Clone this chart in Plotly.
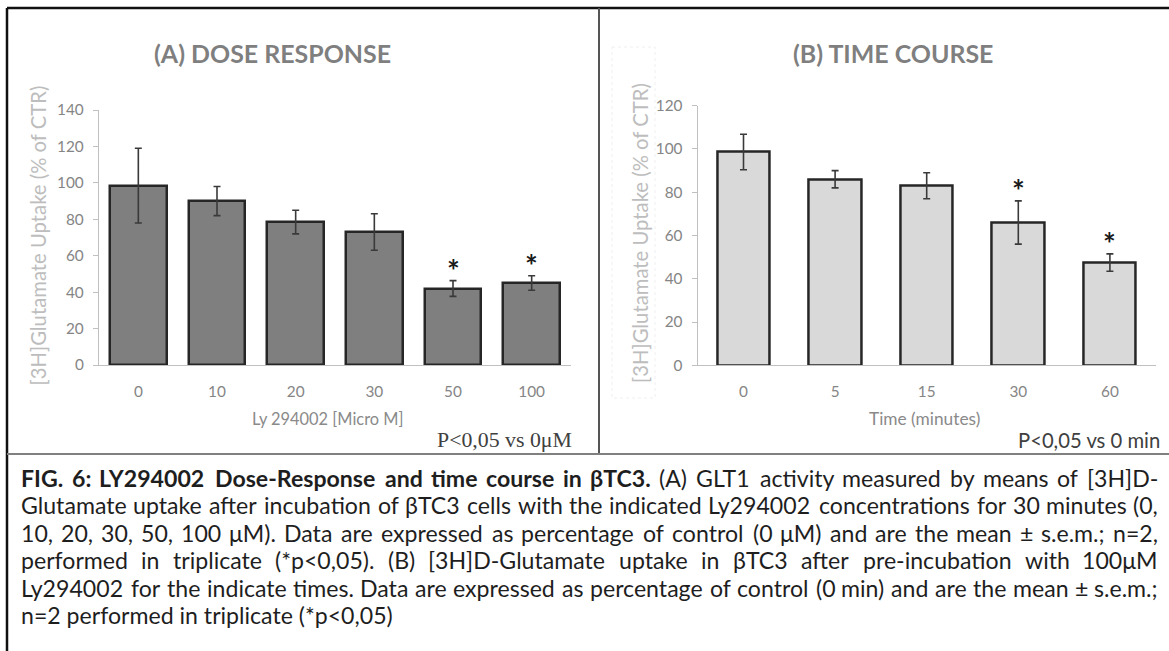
import glob
import os
import struct
import plotly.graph_objects as go

# ---------------- data ----------------
dose_labels = ["0", "10", "20", "30", "50", "100"]
dose_mean = [98.5, 90, 78.5, 73, 42, 45]
dose_sem = [20.5, 8, 6.5, 10, 4.3, 4]
dose_sig = [False, False, False, False, True, True]

time_labels = ["0", "5", "15", "30", "60"]
time_mean = [98.6, 86, 83, 66, 47.5]
time_sem = [8.2, 4, 6, 10, 4]
time_sig = [False, False, False, True, True]

title_a = "(A) DOSE RESPONSE"
title_b = "(B) TIME COURSE"
ytitle = "[3H]Glutamate Uptake (% of CTR)"
xtitle_a = "Ly 294002 [Micro M]"
xtitle_b = "Time (minutes)"
pnote_a = "P<0,05 vs 0\u03bcM"
pnote_b = "P<0,05 vs 0 min"

caption_lines = [
    [("FIG. 6: LY294002 Dose-Response and time course in \u03b2TC3.", True),
     ("(A) GLT1 activity measured by means of [3H]D-", False)],
    [("Glutamate uptake after incubation of \u03b2TC3 cells with the indicated Ly294002 concentrations for 30 minutes (0,", False)],
    [("10, 20, 30, 50, 100 \u03bcM). Data are expressed as percentage of control (0 \u03bcM) and are the mean \u00b1 s.e.m.; n=2,", False)],
    [("performed in triplicate (*p<0,05). (B) [3H]D-Glutamate uptake in \u03b2TC3 after pre-incubation with 100\u03bcM", False)],
    [("Ly294002 for the indicate times. Data are expressed as percentage of control (0 min) and are the mean \u00b1 s.e.m.;", False)],
    [("n=2 performed in triplicate (*p<0,05)", False)],
]
caption_justify = [True, True, True, True, True, False]

W, H = 1169, 651


def px(x):
    return x / W


def py(y):
    return 1 - y / H


# ---------------- font metrics (for text fitting / justification) ----------------
def find_font(names):
    roots = ["/usr/share/fonts", "/usr/local/share/fonts",
             os.path.expanduser("~/.fonts"), os.path.expanduser("~/.local/share/fonts")]
    for n in names:
        for r in roots:
            hits = glob.glob(os.path.join(r, "**", n), recursive=True)
            if hits:
                return sorted(hits)[0]
    return None


def load_width_fn(path):
    try:
        data = open(path, "rb").read()
        base = 0
        if data[:4] == b"ttcf":
            base = struct.unpack(">I", data[12:16])[0]
        num = struct.unpack(">H", data[base + 4:base + 6])[0]
        tables = {}
        for i in range(num):
            o = base + 12 + 16 * i
            tag = data[o:o + 4].decode("latin1")
            _, off, ln = struct.unpack(">III", data[o + 4:o + 16])
            tables[tag] = off
        head = tables["head"]
        upem = struct.unpack(">H", data[head + 18:head + 20])[0]
        hhea = tables["hhea"]
        nhm = struct.unpack(">H", data[hhea + 34:hhea + 36])[0]
        hm = tables["hmtx"]
        adv = [struct.unpack(">H", data[hm + 4 * i:hm + 4 * i + 2])[0] for i in range(nhm)]
        cm = tables["cmap"]
        nsub = struct.unpack(">H", data[cm + 2:cm + 4])[0]
        sub = None
        for i in range(nsub):
            pid, eid, so = struct.unpack(">HHI", data[cm + 4 + 8 * i:cm + 12 + 8 * i])
            fmt = struct.unpack(">H", data[cm + so:cm + so + 2])[0]
            if fmt == 4 and (pid == 3 or pid == 0):
                sub = cm + so
                if pid == 3:
                    break
        seg2 = struct.unpack(">H", data[sub + 6:sub + 8])[0]
        seg = seg2 // 2
        ends = struct.unpack(">%dH" % seg, data[sub + 14:sub + 14 + seg2])
        starts = struct.unpack(">%dH" % seg, data[sub + 16 + seg2:sub + 16 + 2 * seg2])
        deltas = struct.unpack(">%dh" % seg, data[sub + 16 + 2 * seg2:sub + 16 + 3 * seg2])
        ro_off = sub + 16 + 3 * seg2
        ros = struct.unpack(">%dH" % seg, data[ro_off:ro_off + seg2])

        def gid(c):
            for i in range(seg):
                if ends[i] >= c:
                    if starts[i] > c:
                        return 0
                    if ros[i] == 0:
                        return (c + deltas[i]) & 0xFFFF
                    addr = ro_off + 2 * i + ros[i] + 2 * (c - starts[i])
                    g = struct.unpack(">H", data[addr:addr + 2])[0]
                    return (g + deltas[i]) & 0xFFFF if g else 0
            return 0

        cache = {}

        def width(text):
            w = 0
            for ch in text:
                if ch not in cache:
                    g = gid(ord(ch))
                    cache[ch] = adv[min(g, nhm - 1)] / upem
                w += cache[ch]
            return w
        width("abc")
        return width
    except Exception:
        return None


def fallback(text):
    return 0.5 * len(text)


SANS = "Lato"
SERIF = "Liberation Serif"
_p = find_font(["Lato-Regular.ttf", "Lato-Regular.otf"])
w_reg = (load_width_fn(_p) if _p else None) or fallback
_p = find_font(["Lato-Bold.ttf", "Lato-Bold.otf"])
w_bold = (load_width_fn(_p) if _p else None) or (lambda t: 0.55 * len(t))
_p = find_font(["LiberationSerif-Regular.ttf"])
w_serif = (load_width_fn(_p) if _p else None) or fallback


def fit(text, target_px, fn):
    return target_px / fn(text)


def esc(t):
    return t.replace("&", "&amp;").replace("<", "&lt;").replace(">", "&gt;")


# ---------------- figure ----------------
fig = go.Figure()
fig.add_trace(go.Bar(
    x=dose_labels, y=dose_mean, width=0.724,
    marker=dict(color="#7f7f7f", line=dict(color="#262626", width=2.5)),
    error_y=dict(type="data", array=dose_sem, visible=True, color="#3a3a3a",
                 thickness=1.6, width=3.5),
    xaxis="x", yaxis="y", showlegend=False, name="Dose response"))
fig.add_trace(go.Bar(
    x=time_labels, y=time_mean, width=0.573,
    marker=dict(color="#d9d9d9", line=dict(color="#262626", width=2.5)),
    error_y=dict(type="data", array=time_sem, visible=True, color="#3a3a3a",
                 thickness=1.6, width=3.5),
    xaxis="x2", yaxis="y2", showlegend=False, name="Time course"))

tick_size = fit("140", 26.7, w_reg)
tick_font = dict(family=SANS, size=tick_size, color="#858585")
ax_common = dict(showgrid=False, zeroline=False, showline=True, linecolor="#c0c0c0",
                 linewidth=1.3, automargin=False, fixedrange=True, tickfont=tick_font)

fig.update_layout(
    width=W, height=H, autosize=False,
    margin=dict(l=0, r=0, t=0, b=0),
    paper_bgcolor="white", plot_bgcolor="white",
    font=dict(family=SANS),
    bargap=0,
    xaxis=dict(domain=[px(99), px(571)], type="category", range=[-0.5, 5.5],
               ticks="", anchor="y", ticklabelstandoff=12, **ax_common),
    yaxis=dict(domain=[py(365), py(110)], range=[0, 140], dtick=20, tick0=0,
               ticks="outside", ticklen=5, tickcolor="#c0c0c0", tickwidth=1.2,
               anchor="x", ticklabelstandoff=6, **ax_common),
    xaxis2=dict(domain=[px(697.7), px(1155.7)], type="category", range=[-0.5, 4.5],
                ticks="", anchor="y2", ticklabelstandoff=12, **ax_common),
    yaxis2=dict(domain=[py(365.3), py(105.7)], range=[0, 120], dtick=20, tick0=0,
                ticks="outside", ticklen=5, tickcolor="#c0c0c0", tickwidth=1.2,
                anchor="x2", ticklabelstandoff=6, **ax_common),
)

ann = []
# significance stars (category index positions on the category axes)
star_font = dict(family=SANS, size=30, color="#1a1a1a")
for i, (m, e, s) in enumerate(zip(dose_mean, dose_sem, dose_sig)):
    if s:
        ann.append(dict(x=i, y=m + e, xref="x", yref="y", text="<b>*</b>", showarrow=False,
                        xanchor="center", yanchor="bottom", yshift=-9, font=star_font))
for i, (m, e, s) in enumerate(zip(time_mean, time_sem, time_sig)):
    if s:
        ann.append(dict(x=i, y=m + e, xref="x2", yref="y2", text="<b>*</b>", showarrow=False,
                        xanchor="center", yanchor="bottom", yshift=-9, font=star_font))

# panel titles
ts = (fit(title_a, 232, w_bold) + fit(title_b, 206, w_bold)) / 2
ann.append(dict(x=px(272), y=py(53), xref="paper", yref="paper", text="<b>%s</b>" % title_a,
                showarrow=False, xanchor="center", yanchor="middle",
                font=dict(family=SANS, size=ts, color="#7f7f7f")))
ann.append(dict(x=px(892.7), y=py(53), xref="paper", yref="paper", text="<b>%s</b>" % title_b,
                showarrow=False, xanchor="center", yanchor="middle",
                font=dict(family=SANS, size=ts, color="#7f7f7f")))

# y titles
yts = fit(ytitle, 302, w_reg)
for xc, yc in ((37.5, 236), (640, 233)):
    ann.append(dict(x=px(xc), y=py(yc), xref="paper", yref="paper", text=esc(ytitle),
                    textangle=-90, showarrow=False, xanchor="center", yanchor="middle",
                    font=dict(family=SANS, size=yts, color="#bdbdbd")))

# x titles
ann.append(dict(x=px(327), y=py(418), xref="paper", yref="paper", text=esc(xtitle_a),
                showarrow=False, xanchor="center", yanchor="middle",
                font=dict(family=SANS, size=fit(xtitle_a, 154, w_reg), color="#8a8a8a")))
ann.append(dict(x=px(924), y=py(418), xref="paper", yref="paper", text=esc(xtitle_b),
                showarrow=False, xanchor="center", yanchor="middle",
                font=dict(family=SANS, size=fit(xtitle_b, 112, w_reg), color="#8a8a8a")))

# p-value notes
ann.append(dict(x=px(572), y=py(440), xref="paper", yref="paper", text=esc(pnote_a),
                showarrow=False, xanchor="right", yanchor="middle", borderpad=0, borderwidth=0,
                font=dict(family=SERIF, size=fit(pnote_a, 135, w_serif), color="#404040")))
ann.append(dict(x=px(1160), y=py(440), xref="paper", yref="paper", text=esc(pnote_b),
                showarrow=False, xanchor="right", yanchor="middle", borderpad=0, borderwidth=0,
                font=dict(family=SANS, size=fit(pnote_b, 143, w_reg), color="#404040")))

# caption (justified, word by word)
X0, X1 = 21, 1158
Y0, DY = 478, 27.4
space_em = w_reg(" ")
line_words = []
for segs in caption_lines:
    words = []
    for txt, bold in segs:
        for wd in txt.split(" "):
            if wd:
                words.append((wd, bold))
    line_words.append(words)


def wem(wd, bold):
    return w_bold(wd) if bold else w_reg(wd)


last_txt = " ".join(t for t, _ in caption_lines[-1])
fs = fit(last_txt, 374, w_reg)
for words, just in zip(line_words, caption_justify):
    if just:
        nat = sum(wem(w, b) for w, b in words) + (len(words) - 1) * space_em
        fs = min(fs, (X1 - X0) / nat * 0.995)

cap_color = "#1e1e1e"
for i, (words, just) in enumerate(zip(line_words, caption_justify)):
    yc = py(Y0 + i * DY)
    if just:
        widths = [wem(w, b) * fs for w, b in words]
        gap = (X1 - X0 - sum(widths)) / (len(words) - 1)
        x = X0
        for (w, b), ww in zip(words, widths):
            t = esc(w)
            if b:
                t = "<b>%s</b>" % t
            ann.append(dict(x=px(x), y=yc, xref="paper", yref="paper", text=t, showarrow=False,
                            xanchor="left", yanchor="middle", borderpad=0, borderwidth=0,
                            font=dict(family=SANS, size=fs, color=cap_color)))
            x += ww + gap
    else:
        ann.append(dict(x=px(X0), y=yc, xref="paper", yref="paper",
                        text=esc(" ".join(w for w, _ in words)), showarrow=False,
                        xanchor="left", yanchor="middle", borderpad=0, borderwidth=0,
                        font=dict(family=SANS, size=fs, color=cap_color)))

fig.update_layout(annotations=ann)

# frame lines
shapes = [
    dict(type="line", x0=px(7), x1=px(1169), y0=py(8), y1=py(8), line=dict(color="#111111", width=2.5)),
    dict(type="line", x0=px(7), x1=px(7), y0=py(8), y1=py(651), line=dict(color="#111111", width=2.5)),
    dict(type="line", x0=px(599), x1=px(599), y0=py(8), y1=py(454), line=dict(color="#555555", width=2)),
    dict(type="line", x0=px(7), x1=px(1169), y0=py(454), y1=py(454), line=dict(color="#808080", width=2)),
    dict(type="rect", x0=px(612), x1=px(655), y0=py(47), y1=py(398), line=dict(color="#efefef", width=1, dash="dot")),
]
for s in shapes:
    s.update(xref="paper", yref="paper")
fig.update_layout(shapes=shapes)

fig.write_html("out.html")
